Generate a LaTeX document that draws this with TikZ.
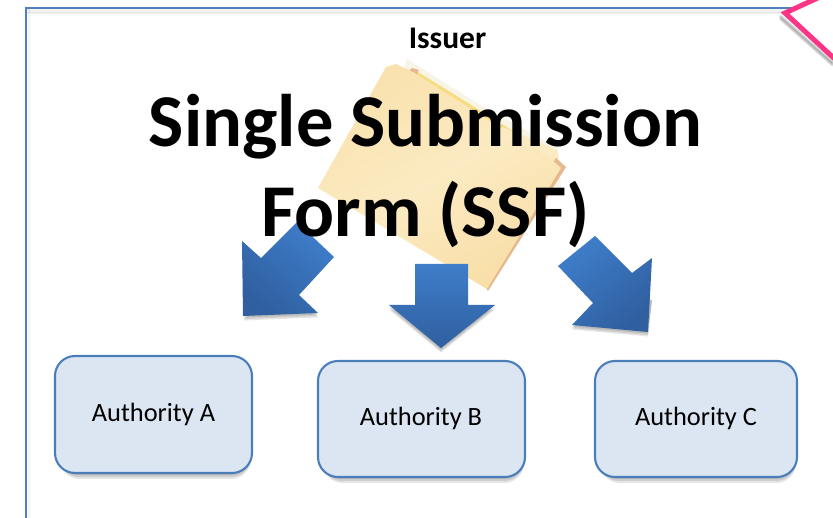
\documentclass[tikz,border=0pt]{standalone}
\usepackage{fontspec}
\setmainfont{Carlito}
\usetikzlibrary{calc}
\definecolor{frameblue}{HTML}{4F81BD}
\definecolor{boxfill}{HTML}{DCE6F2}
\definecolor{boxline}{HTML}{4A7EBB}
\definecolor{arrowlight}{HTML}{3F7DCA}
\definecolor{arrowdark}{HTML}{2F5F9F}
\definecolor{pinkline}{HTML}{FB3585}
\definecolor{foldera}{HTML}{F9E2AE}
\definecolor{folderb}{HTML}{FBEAC2}
\definecolor{folderc}{HTML}{F9DFA8}
\definecolor{folderedge}{HTML}{E6B88E}
\definecolor{tabyellow}{HTML}{F5DC7E}
\definecolor{papercream}{HTML}{F8F5E6}
\tikzset{
  softshadow/.style={fill=black,draw=none,opacity=0.10},
  authbox/.style={rounded corners=20pt,fill=boxfill,draw=boxline,line width=2.1pt},
  authlabel/.style={font=\fontsize{26.4}{30}\selectfont,text=black,inner sep=0pt},
  blockarrow/.style={bottom color=arrowdark,top color=arrowlight,draw=none},
  titlelabel/.style={font=\bfseries\fontsize{74.5}{90}\selectfont,align=center,text=black,inner sep=0pt}
}
\newcommand{\softbox}[4]{%
  \foreach \d in {2,4,6}{\fill[softshadow,rounded corners=20pt] ($(#1,#2)+(0.5*\d,\d)$) rectangle ($(#3,#4)+(0,\d)$);}%
}
\begin{document}
\begin{tikzpicture}[x=1pt,y=-1pt]
\useasboundingbox (0,0) rectangle (833,518);
\fill[white] (0,0) rectangle (833,518);
% frame shadow and frame
\foreach \d in {1.5,3,4.5}{\fill[black,opacity=0.05] (27,8+\d) rectangle (787,10+\d);}
\foreach \d in {1.5,3}{\fill[black,opacity=0.04] (26+\d,9) rectangle (27+\d,518);}
\draw[frameblue,line width=2pt] (25.5,518) -- (25.5,8.2) -- (792,8.2);
% pink shape
\foreach \d in {1.5,3,4.5}{\draw[black,opacity=0.12,line width=3pt] (780,14+\d) -- (833,61+\d);}
\fill[white] (784,13) -- (822,-2) -- (840,-2) -- (840,66) -- cycle;
\draw[pinkline,line width=5pt,miter limit=10] (822,-4) -- (785,13) -- (837,61);
% folder: sheets behind the front cover
\fill[papercream] (407,59) -- (480,105) -- (558,148) -- (561,190) -- (400,80) -- cycle;
\fill[tabyellow] (413,69) -- (555,157) -- (558,170) -- (408,75) -- cycle;
\fill[folderedge] (412,68) -- (419,70) -- (416,75) -- (408,72) -- cycle;
\fill[folderb] (503,127) -- (557,150) -- (560,170) -- (500,135) -- cycle;
\fill[folderedge] (556,158) -- (566,167) -- (488,291) -- (480,280) -- cycle;
\path[left color=foldera,right color=folderc,middle color=folderb,shading angle=30]
  (386,67) -- (396,64) -- (413,72) -- (503,129) -- (552,160) -- (561,168) -- (487,289) -- (318,188) -- cycle;
% arrows
\foreach \d in {1.5,3,4.5}{\fill[softshadow] (243,316+\d) -- (318,313+\d) -- (299,295+\d) -- (261,300+\d) -- cycle;}
\path[blockarrow,shading angle=-40] (242,241) -- (261,258) -- (297,222) -- (334,257) -- (299,295) -- (318,313) -- (243,316) -- cycle;
\foreach \d in {1.5,3,4.5}{\fill[softshadow] (389,305+\d) -- (441,348+\d) -- (495,305+\d) -- (441,320) -- cycle;}
\path[blockarrow] (415,264) -- (468,264) -- (468,305) -- (495,305) -- (441,348) -- (389,305) -- (415,305) -- cycle;
\foreach \d in {1.5,3,4.5}{\fill[softshadow] (572,325+\d) -- (648,332+\d) -- (652,300) -- (600,300) -- cycle;}
\path[blockarrow,shading angle=40] (558,266) -- (595,236) -- (632,273) -- (652,258) -- (648,332) -- (572,325) -- (593,303) -- cycle;
% boxes
\softbox{57}{358}{251}{473}
\softbox{320}{363}{524}{477}
\softbox{597}{363}{796}{477}
\draw[authbox] (55,356) rectangle (252,473);
\draw[authbox] (318,361) rectangle (525,477);
\draw[authbox] (595,361) rectangle (797,477);
\node[authlabel] (autha) at (153.5,414) {Authority A};
\node[authlabel] (authb) at (421,418) {Authority B};
\node[authlabel] (authc) at (696,418) {Authority C};
% texts
\node[font=\bfseries\fontsize{31.5}{36}\selectfont,inner sep=0pt] (issuer) at (447.5,38.5) {Issuer};
\node[titlelabel] (title) at (425.5,171) {Single Submission\\Form (SSF)};
\end{tikzpicture}
\end{document}
